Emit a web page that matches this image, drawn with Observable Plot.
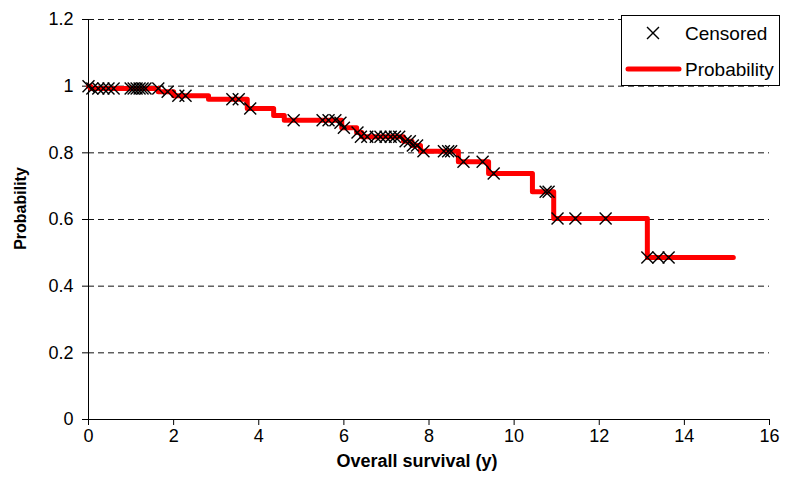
<!DOCTYPE html>
<html><head><meta charset="utf-8">
<script src="https://cdn.jsdelivr.net/npm/d3@7"></script>
<script src="https://cdn.jsdelivr.net/npm/@observablehq/plot@0.6"></script>
<style>
body{margin:0;background:#fff;}
#wrap{position:relative;width:785px;height:487px;font-family:"Liberation Sans",Arial,sans-serif;}
#legend{position:absolute;left:621px;top:15px;}
</style></head>
<body>
<div id="wrap"><div id="chart"></div><div id="legend"></div></div>
<script>
// Kaplan-Meier step curve (time in years, survival probability after the step)
const stepTimes = [0, 0.05, 1.64, 2.0, 2.82, 3.73, 4.35, 4.6, 5.95, 6.3, 6.42, 7.4, 7.6, 7.8, 8.69, 9.40, 10.43, 10.93, 13.13, 15.15];
const stepProbs = [1.0, 0.993, 0.983, 0.971, 0.961, 0.933, 0.912, 0.898, 0.875, 0.861, 0.848, 0.835, 0.822, 0.805, 0.773, 0.738, 0.683, 0.603, 0.486, 0.486];

// Censored observations
const censTimes = [0, 0.09, 0.23, 0.35, 0.47, 0.59, 0.99, 1.06, 1.13, 1.2, 1.27, 1.34, 1.64, 1.86, 2.11, 2.28, 3.38, 3.53, 3.80, 4.82, 5.5, 5.64, 5.8, 5.92, 6.0, 6.32, 6.40, 6.55, 6.75, 6.86, 6.98, 7.1, 7.2, 7.3, 7.45, 7.55, 7.62, 7.72, 7.87, 8.35, 8.45, 8.52, 8.81, 9.26, 9.52, 10.74, 10.81, 11.02, 11.44, 12.15, 13.13, 13.39, 13.63];
const censProbs = [1.0, 0.993, 0.993, 0.993, 0.993, 0.993, 0.993, 0.993, 0.993, 0.993, 0.993, 0.993, 0.993, 0.983, 0.971, 0.971, 0.961, 0.961, 0.933, 0.898, 0.898, 0.898, 0.898, 0.89, 0.875, 0.861, 0.848, 0.848, 0.848, 0.848, 0.848, 0.848, 0.848, 0.848, 0.835, 0.835, 0.822, 0.822, 0.805, 0.805, 0.805, 0.805, 0.773, 0.773, 0.738, 0.683, 0.683, 0.603, 0.603, 0.603, 0.486, 0.486, 0.486];

const xTicks = [0, 2, 4, 6, 8, 10, 12, 14, 16];
const yTicks = [0, 0.2, 0.4, 0.6, 0.8, 1, 1.2];
const yTickLabels = ["0", "0.2", "0.4", "0.6", "0.8", "1", "1.2"];
const xTitle = "Overall survival (y)";
const yTitle = "Probability";
const legendLabels = ["Censored", "Probability"];

const steps = stepTimes.map((t, i) => ({t, p: stepProbs[i]}));
const cens = censTimes.map((t, i) => ({t, p: censProbs[i]}));

const chart = Plot.plot({
  width: 785, height: 487,
  marginLeft: 88, marginRight: 16, marginTop: 19, marginBottom: 68,
  style: {fontFamily: '"Liberation Sans", Arial, sans-serif', fontSize: "18px", color: "#000", background: "#fff"},
  x: {domain: [0, 16]},
  y: {domain: [0, 1.2]},
  marks: [
    Plot.ruleY(yTicks.filter(d => d > 0), {stroke: "#111", strokeWidth: 1, strokeDasharray: "6,4"}),
    Plot.axisX({ticks: xTicks, tickSize: 6, tickPadding: 4, label: null, stroke: "#000", fontSize: 18}),
    Plot.axisY({ticks: yTicks, tickSize: 6, tickPadding: 9, label: null, stroke: "#000", fontSize: 18,
      tickFormat: d => yTickLabels[yTicks.indexOf(d)]}),
    Plot.ruleX([0], {stroke: "#000", strokeWidth: 1}),
    Plot.ruleY([0], {stroke: "#000", strokeWidth: 1}),
    Plot.line(steps, {x: "t", y: "p", curve: "step-after", stroke: "#ff0000", strokeWidth: 5, strokeLinecap: "round", strokeLinejoin: "round"}),
    Plot.dot(cens, {x: "t", y: "p", symbol: "times", r: 5.5, stroke: "#000", strokeWidth: 1.4}),
    Plot.text([xTitle], {frameAnchor: "bottom", text: d => d, dx: -12, dy: 47, fontWeight: "bold", fontSize: 18, fill: "#000"}),
    Plot.text([yTitle], {frameAnchor: "left", textAnchor: "middle", text: d => d, rotate: -90, dx: -68, dy: -11, fontWeight: "bold", fontSize: 16, fill: "#000"})
  ]
});
document.getElementById("chart").appendChild(chart);

// Legend
const lg = d3.select("#legend").append("svg").attr("width", 160).attr("height", 72);
lg.append("rect").attr("x", 0.5).attr("y", 0.5).attr("width", 158).attr("height", 70).attr("fill", "#fff").attr("stroke", "#000");
const sym = d3.symbol(d3.symbolTimes, Math.PI * 5.5 * 5.5);
lg.append("path").attr("d", sym()).attr("transform", "translate(32,18)").attr("stroke", "#000").attr("stroke-width", 1.4).attr("fill", "none");
lg.append("line").attr("x1", 7).attr("x2", 58).attr("y1", 54).attr("y2", 54).attr("stroke", "#ff0000").attr("stroke-width", 5).attr("stroke-linecap", "round");
lg.selectAll("text").data(legendLabels).join("text")
  .attr("x", 64).attr("y", (d, i) => i === 0 ? 18 : 54).attr("dy", "0.35em")
  .attr("font-family", '"Liberation Sans", Arial, sans-serif').attr("font-size", 19).attr("fill", "#000")
  .text(d => d);
</script>
</body></html>
